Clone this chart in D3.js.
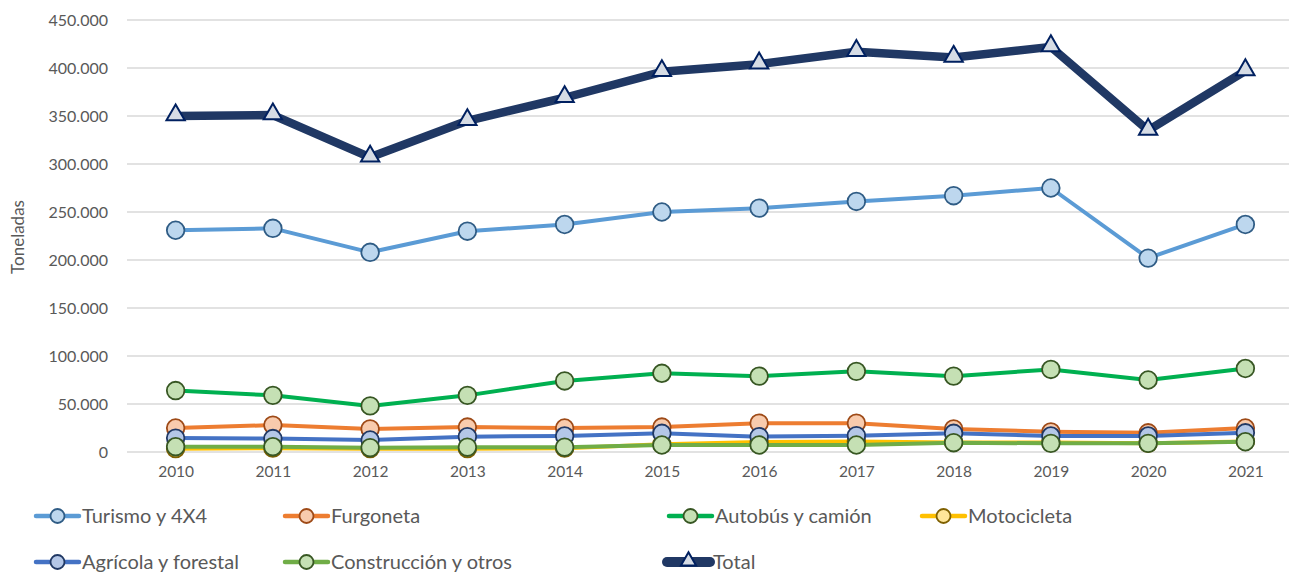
<!DOCTYPE html>
<html>
<head>
<meta charset="utf-8">
<script src="https://cdn.jsdelivr.net/npm/d3@7"></script>
<style>
  body { margin: 0; background: #fff; }
  text { font-family: Lato, "Open Sans", sans-serif; fill: #595959; }
</style>
</head>
<body>
<div id="chart"></div>
<script>
const years = ['2010', '2011', '2012', '2013', '2014', '2015', '2016', '2017', '2018', '2019', '2020', '2021'];
const yTicks = [0, 50000, 100000, 150000, 200000, 250000, 300000, 350000, 400000, 450000];

const turismo = [231000, 233000, 208000, 230000, 237000, 250000, 254000, 261000, 267000, 275000, 202000, 237000];
const furgoneta = [25000, 28000, 24000, 26000, 25000, 26000, 30000, 30000, 24000, 21000, 20000, 25000];
const autobus = [64000, 59000, 48000, 59000, 74000, 82000, 79000, 84000, 79000, 86000, 75000, 87000];
const motocicleta = [3500, 4000, 3500, 3500, 4000, 8000, 10500, 11000, 10000, 10000, 9000, 11000];
const agricola = [14500, 14000, 12500, 16000, 16700, 19500, 16000, 17000, 19500, 16700, 16700, 20000];
const construccion = [5500, 5500, 4500, 5000, 5000, 7300, 7300, 7300, 9700, 9000, 9000, 10700];
const total = [350000, 351000, 307000, 345000, 369000, 396000, 404000, 417000, 411000, 422000, 335000, 397000];

const seriesNames = ['Turismo y 4X4', 'Furgoneta', 'Autobús y camión', 'Motocicleta', 'Agrícola y forestal', 'Construcción y otros', 'Total'];
const seriesValues = [turismo, furgoneta, autobus, motocicleta, agricola, construccion, total];

// styles per series (same order)
const styles = [
  { line: '#5B9BD5', fill: '#BDD7EE', stroke: '#2F5C85', width: 4, marker: 'circle' },
  { line: '#ED7D31', fill: '#F8CBAD', stroke: '#9E4A17', width: 4, marker: 'circle' },
  { line: '#00B050', fill: '#C5E0B4', stroke: '#375623', width: 4, marker: 'circle' },
  { line: '#FFC000', fill: '#FFE699', stroke: '#7F6000', width: 4, marker: 'circle' },
  { line: '#4472C4', fill: '#B4C7E7', stroke: '#203864', width: 4, marker: 'circle' },
  { line: '#70AD47', fill: '#C5E0B4', stroke: '#385723', width: 4, marker: 'circle' },
  { line: '#203864', fill: '#D6DCE5', stroke: '#002060', width: 8.5, marker: 'triangle' }
];

const width = 1289, height = 575;
const plot = { left: 127, right: 1294, top: 20, bottom: 452 };

const svg = d3.select('#chart').append('svg')
  .attr('width', width)
  .attr('height', height);

const x = d3.scalePoint()
  .domain(years)
  .range([plot.left, plot.right])
  .padding(0.5);

const y = d3.scaleLinear()
  .domain([0, 450000])
  .range([plot.bottom, plot.top]);

const fmt = d => d === 0 ? '0' : d3.format(',')(d).replace(/,/g, '.');

// grid
svg.append('g')
  .selectAll('line')
  .data(yTicks)
  .enter().append('line')
  .attr('x1', plot.left)
  .attr('x2', plot.right)
  .attr('y1', d => y(d))
  .attr('y2', d => y(d))
  .attr('stroke', '#D9D9D9')
  .attr('stroke-width', 1.5);

const yAxis = d3.axisLeft(y)
  .tickValues(yTicks)
  .tickFormat(fmt)
  .tickSize(0)
  .tickPadding(19);

svg.append('g')
  .attr('transform', `translate(${plot.left},0)`)
  .call(yAxis)
  .call(g => g.select('.domain').remove())
  .selectAll('text')
  .style('font-family', 'Lato, sans-serif')
  .style('font-size', '16px')
  .attr('fill', '#595959');

const xAxis = d3.axisBottom(x).tickSize(0).tickPadding(14);

svg.append('g')
  .attr('transform', `translate(0,${plot.bottom})`)
  .call(xAxis)
  .call(g => g.select('.domain').remove())
  .selectAll('text')
  .style('font-family', 'Lato, sans-serif')
  .style('font-size', '15.5px')
  .attr('fill', '#595959');

svg.append('text')
  .attr('transform', 'translate(24,237) rotate(-90)')
  .attr('text-anchor', 'middle')
  .style('font-size', '17px')
  .text('Toneladas');

const line = d3.line()
  .x((d, i) => x(years[i]))
  .y(d => y(d));

const tri = d3.symbol().type(d3.symbolTriangle).size(145);

seriesValues.forEach((vals, k) => {
  const s = styles[k];
  svg.append('path')
    .attr('d', line(vals))
    .attr('fill', 'none')
    .attr('stroke', s.line)
    .attr('stroke-width', s.width)
    .attr('stroke-linejoin', 'round')
    .attr('stroke-linecap', 'round');

  const pts = svg.append('g').selectAll('.pt')
    .data(vals)
    .enter();

  if (s.marker === 'circle') {
    pts.append('circle')
      .attr('cx', (d, i) => x(years[i]))
      .attr('cy', d => y(d))
      .attr('r', 8.8)
      .attr('fill', s.fill)
      .attr('stroke', s.stroke)
      .attr('stroke-width', 1.8);
  } else {
    pts.append('path')
      .attr('d', tri)
      .attr('transform', (d, i) => `translate(${x(years[i])},${y(d) - 1})`)
      .attr('fill', s.fill)
      .attr('stroke', s.stroke)
      .attr('stroke-width', 2);
  }
});

// legend
const legendCols = [36, 285, 669, 922];
const legendRows = [516, 562];

const legend = svg.append('g')
  .selectAll('.item')
  .data(seriesNames)
  .enter().append('g')
  .attr('transform', (d, i) => `translate(${legendCols[i % 4] + (i === 6 ? -2 : 0)},${legendRows[Math.floor(i / 4)]})`);

legend.append('line')
  .attr('x1', 0)
  .attr('x2', 43)
  .attr('stroke', (d, i) => styles[i].line)
  .attr('stroke-width', (d, i) => styles[i].marker === 'circle' ? 4.5 : 10)
  .attr('stroke-linecap', 'round');

legend.each(function (d, i) {
  const g = d3.select(this);
  const s = styles[i];
  if (s.marker === 'circle') {
    g.append('circle')
      .attr('cx', 21.5)
      .attr('r', 7)
      .attr('fill', s.fill)
      .attr('stroke', s.stroke)
      .attr('stroke-width', 1.8);
  } else {
    g.append('path')
      .attr('d', d3.symbol().type(d3.symbolTriangle).size(100))
      .attr('transform', 'translate(21.5,-1)')
      .attr('fill', s.fill)
      .attr('stroke', s.stroke)
      .attr('stroke-width', 2);
  }
});

legend.append('text')
  .attr('x', 46)
  .attr('dy', '0.35em')
  .style('font-size', '20px')
  .text(d => d);
</script>
</body>
</html>
